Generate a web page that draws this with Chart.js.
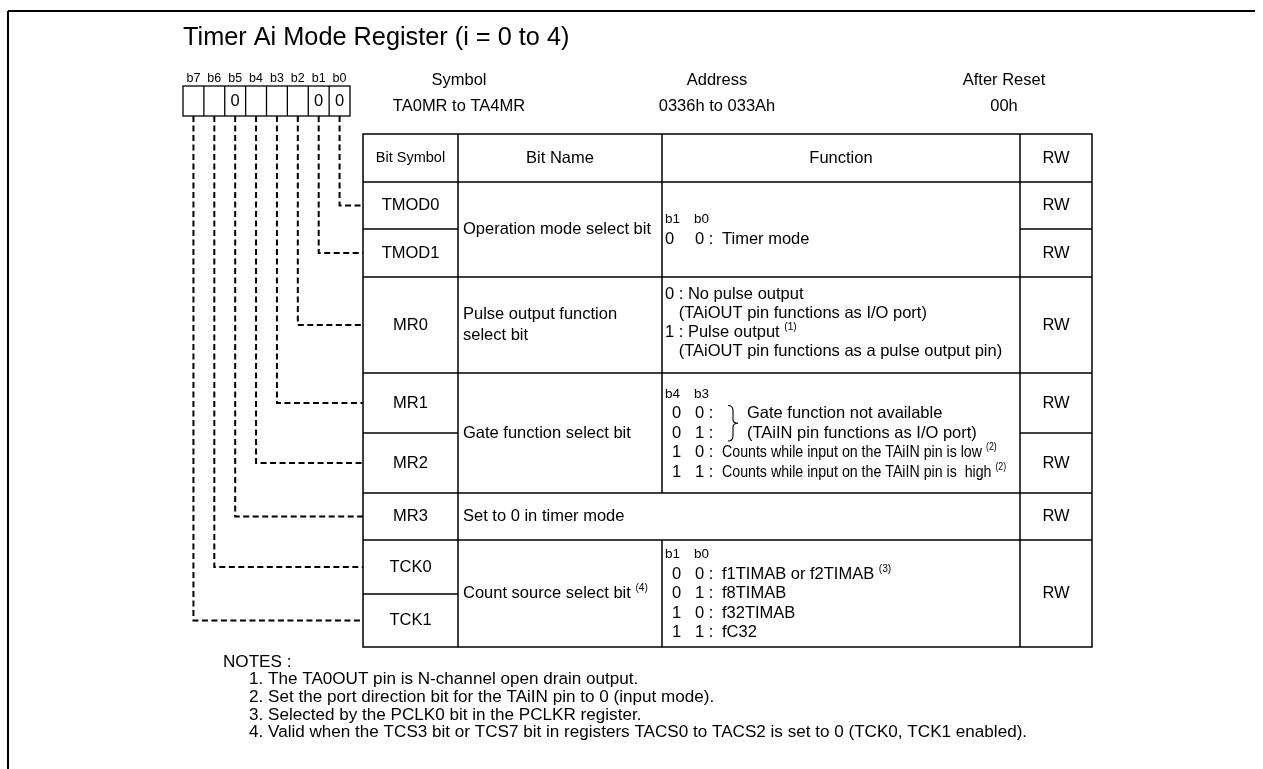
<!DOCTYPE html>
<html>
<head>
<meta charset="utf-8">
<script src="https://cdn.jsdelivr.net/npm/chart.js@4/dist/chart.umd.min.js"></script>
<style>
  html, body { margin: 0; padding: 0; background: #fff; }
  #wrap { width: 1263px; height: 769px; }
</style>
</head>
<body>
<div id="wrap"><canvas id="reg"></canvas></div>
<script>
// register_chart.js
const title = "Timer Ai Mode Register (i = 0 to 4)";
const bitLabels = ["b7", "b6", "b5", "b4", "b3", "b2", "b1", "b0"];
const bitValues = ["", "", "0", "", "", "", "0", "0"];
const infoLabels = ["Symbol", "Address", "After Reset"];
const infoValues = ["TA0MR to TA4MR", "0336h to 033Ah", "00h"];
const colHeads = ["Bit Symbol", "Bit Name", "Function", "RW"];

const bitSymbols = ["TMOD0", "TMOD1", "MR0", "MR1", "MR2", "MR3", "TCK0", "TCK1"];
const symbolBit = [0, 1, 2, 3, 4, 5, 6, 7];

// bit name groups (rows spanned), null function = name spans function column too
const bitNames = ["Operation mode select bit", "Pulse output function\nselect bit",
  "Gate function select bit", "Set to 0 in timer mode", "Count source select bit ^(4)"];
const bitNameSpan = [2, 1, 2, 1, 2];

const fnTMOD = { bits: ["b1", "b0"], rows: [["0", "0", "Timer mode"]] };
const fnMR0 = ["0 : No pulse output", "   (TAiOUT pin functions as I/O port)",
  "1 : Pulse output ^(1)", "   (TAiOUT pin functions as a pulse output pin)"];
const fnGate = { bits: ["b4", "b3"], rows: [
  ["0", "0", "Gate function not available"],
  ["0", "1", "(TAiIN pin functions as I/O port)"],
  ["1", "0", "Counts while input on the TAiIN pin is low ^(2)"],
  ["1", "1", "Counts while input on the TAiIN pin is  high ^(2)"]] };
const fnTCK = { bits: ["b1", "b0"], rows: [
  ["0", "0", "f1TIMAB or f2TIMAB ^(3)"],
  ["0", "1", "f8TIMAB"],
  ["1", "0", "f32TIMAB"],
  ["1", "1", "fC32"]] };
const functions = [fnTMOD, fnMR0, fnGate, null, fnTCK];

const rwValues = ["RW", "RW", "RW", "RW", "RW", "RW", "RW"];
const rwSpan = [1, 1, 1, 1, 1, 1, 2];

const notesHead = "NOTES :";
const notes = [
  "1. The TA0OUT pin is N-channel open drain output.",
  "2. Set the port direction bit for the TAiIN pin to 0 (input mode).",
  "3. Selected by the PCLK0 bit in the PCLKR register.",
  "4. Valid when the TCS3 bit or TCS7 bit in registers TACS0 to TACS2 is set to 0 (TCK0, TCK1 enabled)."
];

// layout (page units = px)
const FONT = '"Liberation Sans", Arial, sans-serif';
const L = {
  frameX: 8, frameTop: 11,
  titleX: 183, titleY: 38,
  boxL: 183, boxR: 350, boxT: 86, boxB: 116, bitLabelY: 79,
  infoX: [459, 717, 1004], infoY: [80, 106],
  cols: [363, 458, 662, 1020, 1092],
  rows: [134, 182, 229, 277, 373, 433, 493, 540, 594, 647],
  lineStep: 19.5,
  notesX: 223, notesIndent: 249, notesY: 662, notesStep: 17.6
};
const cellW = (L.boxR - L.boxL) / 8;
const rowMid = i => (L.rows[i + 1] + L.rows[i + 2]) / 2;

// dashed connectors bit -> row
const connectors = bitSymbols.map((s, i) => {
  const xc = L.boxL + (7 - symbolBit[i] + 0.5) * cellW;
  const yc = rowMid(i);
  return {
    label: s,
    data: [{ x: xc, y: L.boxB }, { x: xc, y: yc }, { x: L.cols[0], y: yc }],
    showLine: true,
    borderColor: "#000",
    borderWidth: 2,
    borderDash: [6, 3.5],
    pointRadius: 0,
    tension: 0
  };
});

function drawRich(ctx, str, x, y, size, align, sx) {
  const parts = str.split("^");
  const main = parts[0], sup = parts[1];
  const k = sx || 1;
  ctx.font = size + "px " + FONT;
  const wMain = ctx.measureText(main).width;
  let wSup = 0;
  if (sup) { ctx.font = (size * 0.62) + "px " + FONT; wSup = ctx.measureText(sup).width; }
  let x0 = x;
  if (align === "center") x0 = x - (wMain + wSup) * k / 2;
  ctx.save();
  ctx.translate(x0, y);
  ctx.scale(k, 1);
  ctx.textAlign = "left";
  ctx.textBaseline = "middle";
  ctx.fillStyle = "#000";
  ctx.font = size + "px " + FONT;
  ctx.fillText(main, 0, 0);
  if (sup) {
    ctx.font = (size * 0.62) + "px " + FONT;
    ctx.fillText(sup, wMain, -size * 0.3);
  }
  ctx.restore();
}

function line(ctx, x1, y1, x2, y2) {
  ctx.beginPath(); ctx.moveTo(x1, y1); ctx.lineTo(x2, y2); ctx.stroke();
}

const registerPlugin = {
  id: "register",
  afterDraw(chart) {
    const ctx = chart.ctx;
    const X = v => chart.scales.x.getPixelForValue(v);
    const Y = v => chart.scales.y.getPixelForValue(v);
    const c = L.cols, r = L.rows;
    ctx.save();
    ctx.strokeStyle = "#000";

    // frame
    ctx.lineWidth = 2;
    line(ctx, X(L.frameX), Y(L.frameTop), X(L.frameX), Y(769));
    line(ctx, X(L.frameX), Y(L.frameTop), X(1255), Y(L.frameTop));

    // title + info
    drawRich(ctx, title, X(L.titleX), Y(L.titleY), 25.3, "left");
    infoLabels.forEach((t, i) => {
      drawRich(ctx, t, X(L.infoX[i]), Y(L.infoY[0]), 16.5, "center");
      drawRich(ctx, infoValues[i], X(L.infoX[i]), Y(L.infoY[1]), 16.5, "center");
    });

    // bit boxes
    ctx.lineWidth = 1.3;
    ctx.strokeRect(X(L.boxL), Y(L.boxT), X(L.boxR) - X(L.boxL), Y(L.boxB) - Y(L.boxT));
    bitLabels.forEach((b, i) => {
      const xl = L.boxL + i * cellW;
      if (i > 0) line(ctx, X(xl), Y(L.boxT), X(xl), Y(L.boxB));
      drawRich(ctx, b, X(xl + cellW / 2), Y(L.bitLabelY), 12.5, "center");
      if (bitValues[i]) drawRich(ctx, bitValues[i], X(xl + cellW / 2), Y((L.boxT + L.boxB) / 2), 16.5, "center");
    });

    // table grid
    ctx.lineWidth = 1.5;
    ctx.strokeRect(X(c[0]), Y(r[0]), X(c[4]) - X(c[0]), Y(r[9]) - Y(r[0]));
    line(ctx, X(c[0]), Y(r[1]), X(c[4]), Y(r[1]));
    line(ctx, X(c[1]), Y(r[0]), X(c[1]), Y(r[9]));
    line(ctx, X(c[3]), Y(r[0]), X(c[3]), Y(r[9]));
    // name/function divider, except merged rows
    let acc = 0;
    const nameEdges = [];
    bitNames.forEach((n, g) => {
      const top = r[1 + acc], bot = r[1 + acc + bitNameSpan[g]];
      if (functions[g]) line(ctx, X(c[2]), Y(top), X(c[2]), Y(bot));
      acc += bitNameSpan[g];
      nameEdges.push(acc);
    });
    line(ctx, X(c[2]), Y(r[0]), X(c[2]), Y(r[1]));
    let racc = 0;
    const rwEdges = rwSpan.map(s => (racc += s));
    for (let k = 1; k < bitSymbols.length; k++) {
      const y = Y(r[1 + k]);
      line(ctx, X(c[0]), y, X(c[1]), y);
      if (nameEdges.includes(k)) line(ctx, X(c[1]), y, X(c[3]), y);
      if (rwEdges.includes(k)) line(ctx, X(c[3]), y, X(c[4]), y);
    }

    // headers
    drawRich(ctx, colHeads[0], X((c[0] + c[1]) / 2), Y((r[0] + r[1]) / 2), 14.5, "center");
    for (let k = 1; k < 4; k++) {
      drawRich(ctx, colHeads[k], X((c[k] + c[k + 1]) / 2), Y((r[0] + r[1]) / 2), 16.5, "center");
    }

    // bit symbols
    bitSymbols.forEach((s, i) => {
      drawRich(ctx, s, X((c[0] + c[1]) / 2), Y(rowMid(i)), 16.5, "center");
    });

    // bit names + functions
    acc = 0;
    bitNames.forEach((n, g) => {
      const top = r[1 + acc], bot = r[1 + acc + bitNameSpan[g]];
      const mid = (top + bot) / 2;
      const nl = n.split("\n");
      nl.forEach((t, j) => {
        drawRich(ctx, t, X(c[1] + 5), Y(mid + (j - (nl.length - 1) / 2) * 21), 16.5, "left");
      });
      const f = functions[g];
      if (f) {
        const fx = c[2] + 3;
        if (Array.isArray(f)) {
          f.forEach((t, j) => {
            const yy = mid + (j - (f.length - 1) / 2) * 19 - 2;
            drawRich(ctx, t, X(fx), Y(yy), 16.5, "left");
          });
        } else {
          const n2 = f.rows.length + 1;
          const y0 = mid - (n2 - 1) / 2 * L.lineStep;
          const indent = g === 0 ? 0 : 7;
          drawRich(ctx, f.bits[0], X(fx), Y(y0), 13.5, "left");
          drawRich(ctx, f.bits[1], X(fx + 29), Y(y0), 13.5, "left");
          f.rows.forEach((row, j) => {
            const yy = y0 + (j + 1) * L.lineStep;
            drawRich(ctx, row[0], X(fx + indent), Y(yy), 16.5, "left");
            const brace = g === 2 && j < 2;
            const narrow = g === 2 && j >= 2;
            drawRich(ctx, row[1] + " :", X(fx + 30), Y(yy), 16.5, "left");
            drawRich(ctx, row[2], X(fx + (brace ? 82 : 57)), Y(yy), 16.5, "left", narrow ? 0.86 : 1);
          });
          if (g === 2) {
            // brace over the first two rows
            const yt = Y(y0 + L.lineStep - 8), yb = Y(y0 + 2 * L.lineStep + 8);
            const ym = (yt + yb) / 2, xa = X(fx + 63), xs = X(fx + 68), xt = X(fx + 73);
            ctx.lineWidth = 1.1;
            ctx.beginPath();
            ctx.moveTo(xa, yt);
            ctx.quadraticCurveTo(xs, yt, xs, yt + 5);
            ctx.lineTo(xs, ym - 4);
            ctx.quadraticCurveTo(xs, ym, xt, ym);
            ctx.quadraticCurveTo(xs, ym, xs, ym + 4);
            ctx.lineTo(xs, yb - 5);
            ctx.quadraticCurveTo(xs, yb, xa, yb);
            ctx.stroke();
          }
        }
      }
      acc += bitNameSpan[g];
    });

    // RW column
    racc = 0;
    rwValues.forEach((t, i) => {
      const top = r[1 + racc], bot = r[1 + racc + rwSpan[i]];
      drawRich(ctx, t, X((c[3] + c[4]) / 2), Y((top + bot) / 2), 16.5, "center");
      racc += rwSpan[i];
    });

    // notes
    drawRich(ctx, notesHead, X(L.notesX), Y(L.notesY), 17.1, "left");
    notes.forEach((t, i) => {
      drawRich(ctx, t, X(L.notesIndent), Y(L.notesY + (i + 1) * L.notesStep), 17.1, "left");
    });
    ctx.restore();
  }
};

new Chart(document.getElementById("reg"), {
  type: "scatter",
  data: { datasets: connectors },
  options: {
    responsive: true,
    maintainAspectRatio: false,
    animation: false,
    events: [],
    layout: { padding: 0 },
    plugins: { legend: { display: false }, tooltip: { enabled: false } },
    scales: {
      x: { type: "linear", min: 0, max: 1263, display: false },
      y: { type: "linear", min: 0, max: 769, reverse: true, display: false }
    }
  },
  plugins: [registerPlugin]
});
</script>
</body>
</html>
